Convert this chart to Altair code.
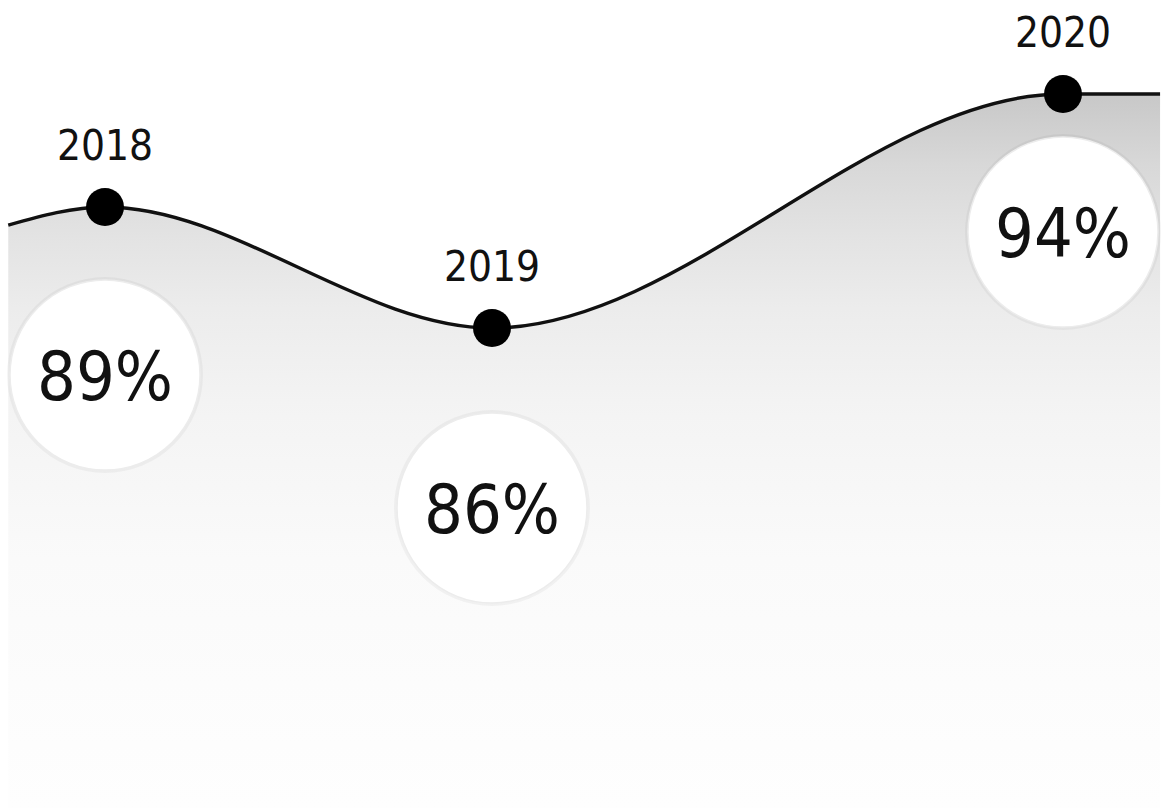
import altair as alt
import pandas as pd

# Data points (year, rate in %)
years = [2018, 2019, 2020]
rates = [89, 86, 94]

# The drawn curve continues a little past the first and last points
curve_years = [2017.75, 2018, 2019, 2020, 2020.17]
curve_rates = [88.55, 89, 86, 94, 94]

points = pd.DataFrame({"year": years, "rate": rates})
curve = pd.DataFrame({"year": curve_years, "rate": curve_rates})

FONT = "DejaVu Sans Condensed, Liberation Sans Narrow, sans-serif"

x_scale = alt.Scale(domain=[2018, 2019, 2020], range=[105, 492, 1063])
y_scale = alt.Scale(domain=[86, 89, 94], range=[328, 207, 94])

X = alt.X("year:Q", scale=x_scale, axis=None)
Y = alt.Y("rate:Q", scale=y_scale, axis=None)

DROP = alt.expr("datum.year == 2019 ? 180 : (datum.year == 2020 ? 138 : 168)")

area = alt.Chart(curve).mark_area(
    interpolate="monotone",
    color=alt.Gradient(
        gradient="linear",
        x1=0, y1=0, x2=0, y2=1,
        stops=[
            alt.GradientStop(color="#c8c8c8", offset=0),
            alt.GradientStop(color="#d8d8d8", offset=0.1),
            alt.GradientStop(color="#e3e3e3", offset=0.2),
            alt.GradientStop(color="#ececec", offset=0.3),
            alt.GradientStop(color="#f4f4f4", offset=0.45),
            alt.GradientStop(color="#fafafa", offset=0.65),
            alt.GradientStop(color="#fefefe", offset=1),
        ],
    ),
).encode(
    x=X,
    y=alt.Y("rate:Q", scale=y_scale, axis=None, stack=None),
    y2=alt.value(808),
)

line = alt.Chart(curve).mark_line(
    interpolate="monotone", color="#111111", strokeWidth=3.4
).encode(x=X, y=Y)

dots = alt.Chart(points).mark_circle(
    size=1444, color="#000000", opacity=1
).encode(x=X, y=Y)

year_text = alt.Chart(points).mark_text(
    font=FONT, fontSize=42, color="#111111", baseline="alphabetic", dy=-47
).encode(x=X, y=Y, text=alt.Text("year:Q", format="d"))

badge_base = alt.Chart(points).transform_calculate(label="datum.rate + '%'")

halo = badge_base.mark_circle(
    size=38416, color="#000000", opacity=0.04, yOffset=DROP
).encode(x=X, y=Y)

badge = badge_base.mark_circle(
    size=36100, color="#ffffff", opacity=1, stroke="#ececec", strokeWidth=1.5,
    yOffset=DROP,
).encode(x=X, y=Y)

pct_text = badge_base.mark_text(
    font=FONT, fontSize=68, color="#111111", baseline="alphabetic", dy=25,
    yOffset=DROP,
).encode(x=X, y=Y, text="label:N")

chart = alt.layer(area, halo, badge, line, dots, year_text, pct_text).properties(
    width=1163,
    height=808,
    autosize=alt.AutoSizeParams(type="none"),
    padding=0,
    background="#ffffff",
).configure_view(stroke=None)

chart.save("out.html", embed_options={"renderer": "svg", "actions": False})
